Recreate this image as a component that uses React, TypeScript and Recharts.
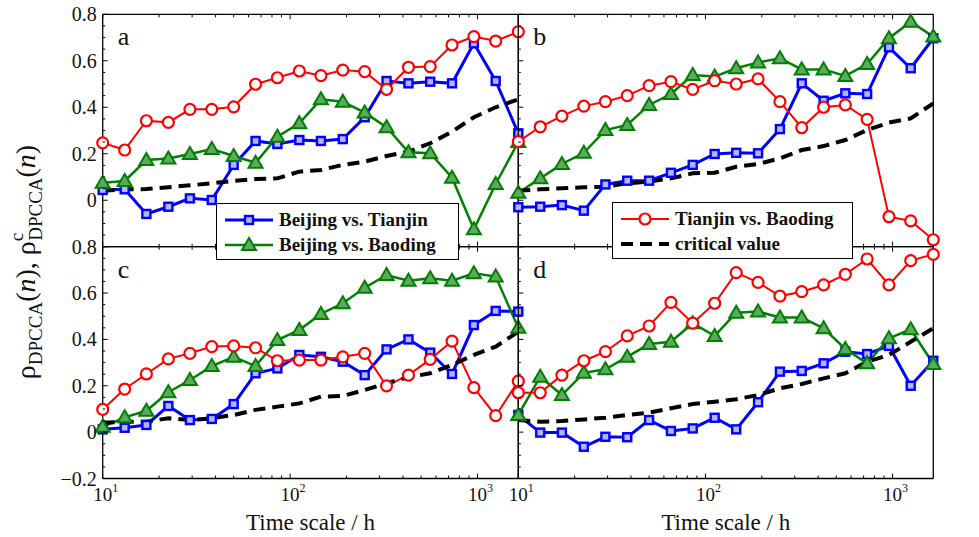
import React from "react";
import { LineChart, Line, XAxis, YAxis, Legend } from "recharts";

const FONT = "'Liberation Serif', 'Times New Roman', Times, serif";
const BLUE = "#0000ff";
const GREEN = "#008000";
const RED = "#ff0000";

// time scale n in hours (log-spaced)
const scales = [10, 13.1, 17.1, 22.4, 29.2, 38.2, 50, 65.4, 85.5, 112, 146, 191, 250, 327, 428, 559, 731, 956, 1250, 1650];

const xTicks = [10, 20, 30, 40, 50, 60, 70, 80, 90, 100, 200, 300, 400, 500, 600, 700, 800, 900, 1000];
const xMajor = [10, 100, 1000];
const yTicks = [-0.2, -0.15, -0.1, -0.05, 0, 0.05, 0.1, 0.15, 0.2, 0.25, 0.3, 0.35, 0.4, 0.45, 0.5, 0.55, 0.6, 0.65, 0.7, 0.75, 0.8];

// panel a
const aBT = [0.044, 0.047, -0.059, -0.028, 0.008, 0.001, 0.152, 0.255, 0.242, 0.259, 0.255, 0.263, 0.357, 0.513, 0.503, 0.51, 0.503, 0.675, 0.513, 0.288];
const aBB = [0.075, 0.083, 0.173, 0.18, 0.199, 0.22, 0.19, 0.161, 0.273, 0.331, 0.434, 0.424, 0.377, 0.314, 0.206, 0.202, 0.097, -0.125, 0.07, 0.25];
const aTB = [0.247, 0.216, 0.342, 0.335, 0.391, 0.391, 0.402, 0.499, 0.527, 0.556, 0.536, 0.56, 0.553, 0.477, 0.572, 0.575, 0.668, 0.704, 0.685, 0.725];
const aCV = [0.041, 0.047, 0.048, 0.056, 0.064, 0.073, 0.083, 0.091, 0.094, 0.123, 0.13, 0.152, 0.166, 0.19, 0.209, 0.245, 0.295, 0.357, 0.4, 0.434];

// panel b
const bBT = [-0.03, -0.028, -0.021, -0.045, 0.068, 0.084, 0.084, 0.118, 0.152, 0.199, 0.204, 0.202, 0.306, 0.503, 0.428, 0.46, 0.457, 0.658, 0.568, 0.697];
const bBB = [0.032, 0.094, 0.156, 0.204, 0.302, 0.324, 0.41, 0.457, 0.539, 0.532, 0.568, 0.593, 0.611, 0.563, 0.563, 0.535, 0.586, 0.697, 0.768, 0.704];
const bTB = [0.252, 0.316, 0.362, 0.405, 0.424, 0.45, 0.493, 0.51, 0.477, 0.514, 0.5, 0.522, 0.424, 0.312, 0.4, 0.41, 0.348, -0.071, -0.089, -0.17];
const bCV = [0.041, 0.047, 0.051, 0.056, 0.058, 0.073, 0.08, 0.094, 0.116, 0.118, 0.144, 0.156, 0.18, 0.216, 0.233, 0.259, 0.302, 0.334, 0.352, 0.417];

// panel c
const cBT = [0.012, 0.019, 0.031, 0.113, 0.052, 0.057, 0.121, 0.254, 0.275, 0.333, 0.325, 0.304, 0.246, 0.357, 0.4, 0.343, 0.251, 0.462, 0.523, 0.52];
const cBB = [0.023, 0.064, 0.092, 0.172, 0.225, 0.285, 0.325, 0.285, 0.397, 0.441, 0.51, 0.556, 0.623, 0.678, 0.653, 0.664, 0.653, 0.685, 0.671, 0.45];
const cTB = [0.098, 0.186, 0.251, 0.316, 0.34, 0.369, 0.372, 0.364, 0.308, 0.311, 0.311, 0.325, 0.34, 0.2, 0.246, 0.314, 0.393, 0.192, 0.071, 0.22];
const cCV = [0.041, 0.045, 0.045, 0.06, 0.052, 0.06, 0.074, 0.096, 0.11, 0.124, 0.153, 0.156, 0.182, 0.211, 0.237, 0.254, 0.29, 0.333, 0.369, 0.433];

// panel d
const dBT = [0.074, -0.002, -0.002, -0.063, -0.02, -0.022, 0.052, 0.005, 0.016, 0.062, 0.012, 0.129, 0.261, 0.264, 0.297, 0.347, 0.337, 0.372, 0.2, 0.308];
const dBB = [0.074, 0.239, 0.16, 0.256, 0.271, 0.325, 0.38, 0.39, 0.47, 0.415, 0.515, 0.52, 0.495, 0.495, 0.448, 0.359, 0.297, 0.405, 0.444, 0.294];
const dTB = [0.17, 0.17, 0.246, 0.308, 0.347, 0.415, 0.458, 0.56, 0.47, 0.556, 0.688, 0.646, 0.587, 0.606, 0.635, 0.681, 0.747, 0.635, 0.74, 0.767];
const dCV = [0.052, 0.045, 0.048, 0.055, 0.062, 0.074, 0.084, 0.103, 0.121, 0.131, 0.142, 0.16, 0.189, 0.208, 0.232, 0.254, 0.304, 0.333, 0.39, 0.448];

const W = 979;
const H = 537;

const buildRows = (bt: number[], bb: number[], tb: number[], cv: number[]) =>
  scales.map((n, i) => ({ n, bt: bt[i], bb: bb[i], tb: tb[i], cv: cv[i] }));

const panels = [
  { id: "a", x0: 102.7, x1: 518.3, y0: 14.3, y1: 246.7, side: "left", bottom: false, rows: buildRows(aBT, aBB, aTB, aCV) },
  { id: "b", x0: 518.3, x1: 933.3, y0: 14.3, y1: 246.7, side: "right", bottom: false, rows: buildRows(bBT, bBB, bTB, bCV) },
  { id: "c", x0: 102.7, x1: 518.3, y0: 246.7, y1: 478.5, side: "left", bottom: true, rows: buildRows(cBT, cBB, cTB, cCV) },
  { id: "d", x0: 518.3, x1: 933.3, y0: 246.7, y1: 478.5, side: "right", bottom: true, rows: buildRows(dBT, dBB, dTB, dCV) },
];

// markers
const Square = (p: any) =>
  p.cx == null ? null : (
    <rect key={`sq-${p.index}`} x={p.cx - 4} y={p.cy - 4} width={8} height={8} fill="#b4b4ff" stroke={BLUE} strokeWidth={2.4} />
  );
const Tri = (p: any) =>
  p.cx == null ? null : (
    <polygon
      key={`tr-${p.index}`}
      points={`${p.cx},${p.cy - 7} ${p.cx - 7},${p.cy + 5} ${p.cx + 7},${p.cy + 5}`}
      fill="#5fa85f"
      stroke={GREEN}
      strokeWidth={2}
      strokeLinejoin="miter"
    />
  );
const Circ = (p: any) =>
  p.cx == null ? null : (
    <circle key={`ci-${p.index}`} cx={p.cx} cy={p.cy} r={5.5} fill="#fff" stroke={RED} strokeWidth={2.2} />
  );

const fmtY = (v: number) => (Math.abs(v) < 1e-9 ? "0" : v < 0 ? "\u2212" + Math.abs(v).toFixed(1) : v.toFixed(1));

const XTick = (props: any) => {
  const { x, y, payload, pos, labels } = props;
  const v = payload.value;
  const major = xMajor.includes(v);
  const len = major ? 5 : 3;
  const d = pos === "bottom" ? -1 : 1;
  return (
    <g>
      <line x1={x} y1={y} x2={x} y2={y + d * len} stroke="#000" strokeWidth={1} />
      {labels && major && pos === "bottom" ? (
        <text x={x + 3} y={y + 22} textAnchor="middle" fontFamily={FONT} fontSize={19} fill="#111">
          10
          <tspan dy={-9} fontSize={12}>
            {Math.round(Math.log10(v))}
          </tspan>
        </text>
      ) : null}
    </g>
  );
};

const YTick = (props: any) => {
  const { x, y, payload, pos, labels, showNeg } = props;
  const v = payload.value;
  const major = Math.abs(v * 5 - Math.round(v * 5)) < 1e-6;
  const len = major ? 5 : 2.5;
  const d = pos === "left" ? 1 : -1;
  const show = labels && major && (v > -0.1 || showNeg);
  return (
    <g>
      <line x1={x} y1={y} x2={x + d * len} y2={y} stroke="#000" strokeWidth={1} />
      {show ? (
        <text
          x={pos === "left" ? x - 6 : x + 5}
          y={y + 7}
          textAnchor={pos === "left" ? "end" : "start"}
          fontFamily={FONT}
          fontSize={20}
          fill="#111"
        >
          {fmtY(v)}
        </text>
      ) : null}
    </g>
  );
};

const PanelLetter = (props: any) => (
  <text x={props.px} y={props.py} fontFamily={FONT} fontSize={26} fill="#111">
    {props.txt}
  </text>
);

const XTitle = (props: any) => (
  <text x={props.px} y={530} textAnchor="middle" fontFamily={FONT} fontSize={23} fill="#111">
    Time scale / h
  </text>
);

const YTitle = () => (
  <text transform="translate(35, 262) rotate(-90)" textAnchor="middle" fontFamily={FONT} fontSize={28} fill="#111">
    ρ
    <tspan fontSize={19} dy={7}>
      DPCCA
    </tspan>
    <tspan dy={-7}>(</tspan>
    <tspan fontStyle="italic">n</tspan>
    <tspan>), ρ</tspan>
    <tspan fontSize={19} dy={-12}>
      c
    </tspan>
    <tspan fontSize={19} dx={-8} dy={19}>
      DPCCA
    </tspan>
    <tspan dy={-7}>(</tspan>
    <tspan fontStyle="italic">n</tspan>
    <tspan>)</tspan>
  </text>
);

const legendLeft = [
  { name: "Beijing vs. Tianjin", color: BLUE, kind: "sq" },
  { name: "Beijing vs. Baoding", color: GREEN, kind: "tri" },
];
const legendRight = [
  { name: "Tianjin vs. Baoding", color: RED, kind: "ci" },
  { name: "critical value", color: "#000", kind: "dash" },
];

const LegendBox = ({ items, w, h }: any) => (
  <svg width={w} height={h} style={{ display: "block" }}>
    <rect x={0.5} y={0.5} width={w - 1} height={h - 1} fill="#fff" stroke="#000" strokeWidth={1} />
    {items.map((it: any, i: number) => {
      const cy = i === 0 ? 17 : 42;
      return (
        <g key={it.name}>
          {it.kind === "dash" ? (
            <line x1={9} y1={cy} x2={57} y2={cy} stroke="#000" strokeWidth={4} strokeDasharray="12 7" />
          ) : (
            <line x1={9} y1={cy} x2={57} y2={cy} stroke={it.color} strokeWidth={it.kind === "sq" ? 3 : it.kind === "ci" ? 2 : 2.5} />
          )}
          {it.kind === "sq" ? <Square cx={33} cy={cy} index={0} /> : null}
          {it.kind === "tri" ? <Tri cx={33} cy={cy} index={0} /> : null}
          {it.kind === "ci" ? <Circ cx={33} cy={cy} index={0} /> : null}
          <text x={63} y={cy + 6} fontFamily={FONT} fontWeight="bold" fontSize={19} fill="#111">
            {it.name}
          </text>
        </g>
      );
    })}
  </svg>
);

const Panel = ({ p }: any) => {
  const margin = { left: p.x0 - 1, right: W - p.x1 - 1, top: p.y0 - 1, bottom: H - p.y1 - 1 };
  const showNeg = p.bottom;
  return (
    <div style={{ position: "absolute", left: 0, top: 0 }}>
      <LineChart width={W} height={H} data={p.rows} margin={margin}>
        <XAxis
          dataKey="n"
          type="number"
          scale="log"
          domain={[10, 1650]}
          ticks={xTicks}
          interval={0}
          height={1}
          tickSize={0}
          tickMargin={0}
          tickLine={false}
          axisLine={{ stroke: "#000", strokeWidth: 1.3 }}
          tick={<XTick pos="bottom" labels={p.bottom} />}
          label={p.bottom ? <XTitle px={(p.x0 + p.x1) / 2} /> : undefined}
        />
        <XAxis
          xAxisId="top"
          orientation="top"
          dataKey="n"
          type="number"
          scale="log"
          domain={[10, 1650]}
          ticks={xTicks}
          interval={0}
          height={1}
          tickSize={0}
          tickMargin={0}
          tickLine={false}
          axisLine={{ stroke: "#000", strokeWidth: 1.3 }}
          tick={<XTick pos="top" labels={false} />}
          label={<PanelLetter px={p.x0 + 15} py={p.y0 + 31} txt={p.id} />}
        />
        <YAxis
          type="number"
          domain={[-0.2, 0.8]}
          ticks={yTicks}
          interval={0}
          width={1}
          tickSize={0}
          tickMargin={0}
          tickLine={false}
          axisLine={{ stroke: "#000", strokeWidth: 1.3 }}
          tick={<YTick pos="left" labels={p.side === "left"} showNeg={showNeg} />}
          label={p.id === "c" ? <YTitle /> : undefined}
        />
        <YAxis
          yAxisId="right"
          orientation="right"
          type="number"
          domain={[-0.2, 0.8]}
          ticks={yTicks}
          interval={0}
          width={1}
          tickSize={0}
          tickMargin={0}
          tickLine={false}
          axisLine={{ stroke: "#000", strokeWidth: 1.3 }}
          tick={<YTick pos="right" labels={p.side === "right"} showNeg={showNeg} />}
        />
        {p.id === "a" ? (
          <Legend
            verticalAlign="middle"
            layout="horizontal"
            wrapperStyle={{ left: 216, top: 203, width: 243, height: 57, zIndex: 10 }}
            content={() => <LegendBox items={legendLeft} w={243} h={57} />}
          />
        ) : null}
        {p.id === "b" ? (
          <Legend
            verticalAlign="middle"
            layout="horizontal"
            wrapperStyle={{ left: 612, top: 202, width: 241, height: 57, zIndex: 10 }}
            content={() => <LegendBox items={legendRight} w={241} h={57} />}
          />
        ) : null}
        <Line dataKey="bt" type="linear" stroke={BLUE} strokeWidth={3} dot={Square} activeDot={false} isAnimationActive={false} />
        <Line dataKey="bb" type="linear" stroke={GREEN} strokeWidth={2.5} dot={Tri} activeDot={false} isAnimationActive={false} />
        <Line dataKey="tb" type="linear" stroke={RED} strokeWidth={2} dot={Circ} activeDot={false} isAnimationActive={false} />
        <Line
          dataKey="cv"
          type="linear"
          stroke="#000"
          strokeWidth={4}
          strokeDasharray="12 7"
          dot={false}
          activeDot={false}
          isAnimationActive={false}
        />
      </LineChart>
    </div>
  );
}

export default function App() {
  return (
    <div style={{ position: "absolute", left: 0, top: 0, width: W, height: H, background: "#fff" }}>
      {panels.map((p) => (
        <Panel key={p.id} p={p} />
      ))}
    </div>
  );
}
